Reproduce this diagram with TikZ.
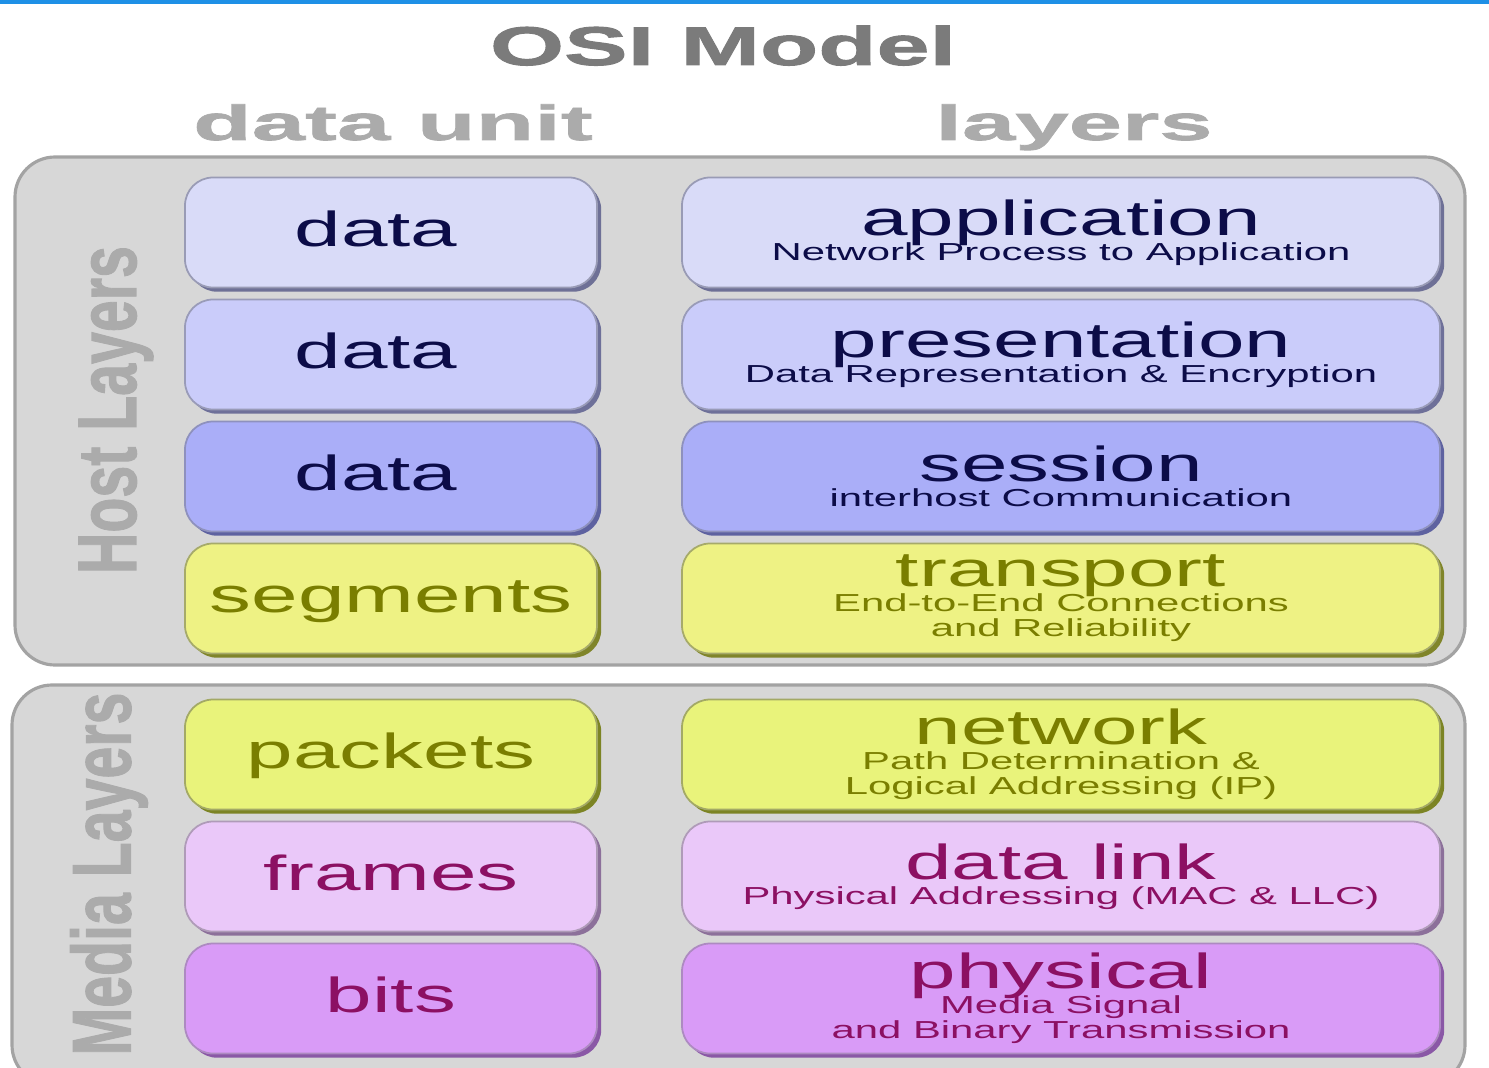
\documentclass[tikz,border=0pt]{standalone}
\usepackage{fontspec}
\setmainfont[FakeStretch=1.7]{Liberation Sans}
\newfontfamily\titlefont[FakeStretch=1.75,FakeBold=1.8]{Liberation Sans}
\newfontfamily\headfont[FakeStretch=1.95,FakeBold=1.5]{Liberation Sans}
\newfontfamily\sidefont[FakeBold=1.5]{Liberation Sans}
\usepackage{graphicx}
\usepackage{tikz}
\usetikzlibrary{shapes,positioning,shadows}

\definecolor{topblue}{HTML}{1E90E6}
\definecolor{panelfill}{HTML}{D7D7D7}
\definecolor{paneledge}{HTML}{A3A3A3}
\definecolor{titlegray}{HTML}{7B7B7B}
\definecolor{headgray}{HTML}{ABABAB}
\definecolor{fillA}{HTML}{D9DBF8}
\definecolor{fillB}{HTML}{CACCFA}
\definecolor{fillC}{HTML}{AAAEF8}
\definecolor{fillD}{HTML}{EEF284}
\definecolor{fillE}{HTML}{E9F37B}
\definecolor{fillF}{HTML}{EAC8F9}
\definecolor{fillG}{HTML}{D99BF7}
\definecolor{edgeA}{HTML}{6E7096}
\definecolor{edgeB}{HTML}{6E7099}
\definecolor{edgeC}{HTML}{5E62A0}
\definecolor{edgeD}{HTML}{80852A}
\definecolor{edgeE}{HTML}{7C8424}
\definecolor{edgeF}{HTML}{8C709A}
\definecolor{edgeG}{HTML}{8A58A6}
\definecolor{inkblue}{HTML}{0C0C48}
\definecolor{inkolive}{HTML}{7A7E00}
\definecolor{inkplum}{HTML}{8C1063}

\newcommand{\layername}[1]{{\fontsize{14}{7.1}\selectfont #1}}
\newcommand{\tightlines}{\lineskiplimit=-30pt\relax}

\tikzset{
  panel/.style={rounded corners=0.4cm, fill=panelfill, draw=paneledge, line width=0.9pt},
  headtext/.style={text=headgray, inner sep=0pt, font=\headfont\bfseries\fontsize{14}{14}\selectfont},
  sidetext/.style={text=headgray, inner sep=0pt, font=\sidefont\bfseries\fontsize{16.3}{16.3}\selectfont},
  unitbox/.style={rectangle, rounded corners=0.28cm, minimum width=4.12cm, minimum height=1.1cm, inner sep=0pt, outer sep=0pt, text height=8pt, text depth=0pt, font=\fontsize{14}{14}\selectfont},
  layerbox/.style={rectangle, rounded corners=0.28cm, minimum width=7.58cm, minimum height=1.1cm, inner sep=0pt, outer sep=0pt, align=center, font=\fontsize{7}{7.1}\selectfont\tightlines},
  layercolors/.style n args={3}{fill=#1, draw=#2!70, line width=0.5pt, text=#3, drop shadow={shadow xshift=1.2pt, shadow yshift=-1.2pt, fill=#2, opacity=1}},
  rowA/.style={layercolors={fillA}{edgeA}{inkblue}},
  rowB/.style={layercolors={fillB}{edgeB}{inkblue}},
  rowC/.style={layercolors={fillC}{edgeC}{inkblue}},
  rowD/.style={layercolors={fillD}{edgeD}{inkolive}},
  rowE/.style={layercolors={fillE}{edgeE}{inkolive}},
  rowF/.style={layercolors={fillF}{edgeF}{inkplum}},
  rowG/.style={layercolors={fillG}{edgeG}{inkplum}},
}

\begin{document}
\begin{tikzpicture}
       \useasboundingbox (0,0) rectangle (14.89,-10.68);

       %Background panels
       \fill[topblue] (0,0) rectangle (14.89,-0.045);
       \draw[panel] (0.15,-1.57) rectangle (14.65,-6.65);
       \draw[panel] (0.12,-6.85) rectangle (14.65,-10.85);

       %Headings
       \node[text=titlegray, inner sep=0pt, anchor=base, font=\titlefont\bfseries\fontsize{15.5}{16}\selectfont] (Title) at (7.23,-0.65) {OSI Model};
       \node[headtext, anchor=base] (UnitHead) at (3.93,-1.40) {data unit};
       \node[headtext, anchor=base] (LayerHead) at (10.74,-1.40) {layers};

       %Side labels
       \node[sidetext] (HostSide) at (1.16,-4.10) {\scalebox{1.45}[1]{\rotatebox{90}{Host Layers}}};
       \node[sidetext] (MediaSide) at (1.09,-8.74) {\scalebox{1.45}[1]{\rotatebox{90}{Media Layers}}};

       %Data unit column
       \node[unitbox, rowA] (DataA) at (3.91,-2.325) {\hspace*{-0.3cm}data};
       \node[unitbox, rowB, below=0.12cm of DataA] (DataB) {\hspace*{-0.3cm}data};
       \node[unitbox, rowC, below=0.12cm of DataB] (DataC) {\hspace*{-0.3cm}data};
       \node[unitbox, rowD, below=0.12cm of DataC] (Segments) {segments};
       \node[unitbox, rowE, below=0.46cm of Segments] (Packets) {packets};
       \node[unitbox, rowF, below=0.12cm of Packets] (Frames) {frames};
       \node[unitbox, rowG, below=0.12cm of Frames] (Bits) {bits};

       %Layer column
       \node[layerbox, rowA, right=0.85cm of DataA] (Application) {\layername{application}\\Network Process to Application};
       \node[layerbox, rowB, right=0.85cm of DataB] (Presentation) {\layername{presentation}\\Data Representation \& Encryption};
       \node[layerbox, rowC, right=0.85cm of DataC] (Session) {\layername{session}\\interhost Communication};
       \node[layerbox, rowD, right=0.85cm of Segments] (Transport) {\layername{transport}\\End-to-End Connections\\and Reliability};
       \node[layerbox, rowE, right=0.85cm of Packets] (Network) {\layername{network}\\Path Determination \&\\Logical Addressing (IP)};
       \node[layerbox, rowF, right=0.85cm of Frames] (DataLink) {\layername{data link}\\Physical Addressing (MAC \& LLC)};
       \node[layerbox, rowG, right=0.85cm of Bits] (Physical) {\layername{physical}\\Media Signal\\and Binary Transmission};
\end{tikzpicture}
\end{document}
